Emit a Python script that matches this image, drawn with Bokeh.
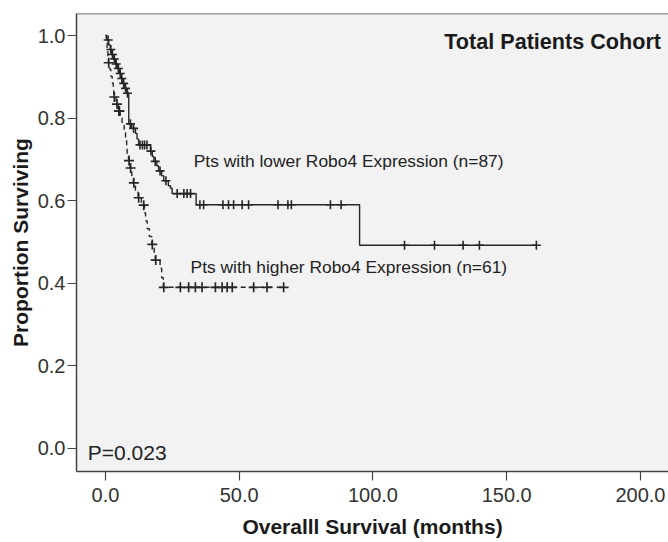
import numpy as np
from bokeh.plotting import figure
from bokeh.models import Range1d, Label, FixedTicker, NumeralTickFormatter, Span
from bokeh.embed import file_html
from bokeh.resources import INLINE

# ---- data ----
x_ticks = [0, 50, 100, 150, 200]
y_ticks = [0.0, 0.2, 0.4, 0.6, 0.8, 1.0]

# lower Robo4 expression (n=87): event times (months) and survival after each event
lower_event_times = [0.5, 1.2, 1.8, 2.3, 3.0, 3.8, 4.5, 5.2, 5.8, 6.5, 7.2, 8.0, 8.7,
                     9.8, 11.2, 11.8, 12.4, 16.8, 17.5, 18.1, 19.2, 19.9, 21.0, 21.8,
                     23.5, 24.3, 24.9, 33.9, 95.0]
lower_event_surv = [0.989, 0.977, 0.966, 0.954, 0.943, 0.931, 0.920, 0.908, 0.896, 0.884,
                    0.872, 0.860, 0.786, 0.775, 0.763, 0.749, 0.735, 0.720, 0.707, 0.695,
                    0.684, 0.672, 0.660, 0.648, 0.636, 0.630, 0.617, 0.590, 0.492]
lower_censor_times = [1.0, 2.0, 2.6, 3.3, 4.0, 4.8, 5.5, 6.1, 6.8, 7.5, 8.2, 9.3, 10.5,
                      12.9, 13.8, 14.6, 15.5, 17.0, 18.6, 20.4, 22.6, 26.8, 29.3, 30.5,
                      31.8, 35.3, 36.7, 43.9, 46.0, 47.9, 51.1, 53.5, 64.5, 68.2, 69.5,
                      84.1, 88.1, 111.8, 123.0, 133.7, 139.8, 161.1]

# higher Robo4 expression (n=61)
higher_event_times = [0.3, 0.6, 0.9, 1.1, 1.6, 2.0, 2.5, 2.9, 3.1, 4.0, 4.8, 5.5, 6.2,
                      7.0, 7.5, 7.9, 8.1, 8.6, 9.2, 9.8, 10.4, 11.2, 12.2, 13.4, 14.6,
                      15.0, 15.6, 16.4, 17.3, 18.2, 18.6, 20.4, 21.0, 21.6]
higher_event_surv = [0.984, 0.967, 0.951, 0.934, 0.918, 0.901, 0.885, 0.868, 0.851, 0.834,
                     0.817, 0.800, 0.782, 0.765, 0.748, 0.731, 0.714, 0.697, 0.679, 0.661,
                     0.643, 0.625, 0.607, 0.589, 0.570, 0.551, 0.532, 0.513, 0.494, 0.475,
                     0.456, 0.436, 0.413, 0.390]
higher_censor_times = [1.2, 3.3, 4.3, 5.0, 5.2, 8.8, 9.4, 10.6, 12.4, 14.3, 17.5, 18.8,
                       21.8, 28.0, 31.1, 33.6, 36.1, 41.1, 43.6, 45.5, 47.4, 55.4, 60.4, 66.6]

label_lower = "Pts with lower Robo4 Expression (n=87)"
label_higher = "Pts with higher Robo4 Expression (n=61)"
title_text = "Total Patients Cohort"
p_text = "P=0.023"


def step_path(times, surv, end):
    xs, ys = [0.0], [1.0]
    prev = 1.0
    for t, s in zip(times, surv):
        xs += [t, t]
        ys += [prev, s]
        prev = s
    xs.append(end)
    ys.append(prev)
    return xs, ys


def surv_at(times, surv, tc):
    t = np.asarray(times)
    s = np.concatenate([[1.0], np.asarray(surv)])
    idx = np.searchsorted(t, np.asarray(tc), side="right")
    return s[idx]


FONT = "Liberation Sans"
INK = "#262626"

p = figure(width=668, height=542, output_backend="svg", toolbar_location=None,
           x_range=Range1d(-10.84, 210.5), y_range=Range1d(-0.0562, 1.0533),
           min_border_left=76, min_border_right=0, min_border_top=13, min_border_bottom=71)
p.background_fill_color = "#f2f2f2"
p.border_fill_color = "white"
p.outline_line_color = None
p.grid.visible = False

p.add_layout(Span(location=1.0533, dimension="width", line_color="#444444", line_width=1.5))

lx, ly = step_path(lower_event_times, lower_event_surv, lower_censor_times[-1])
hx, hy = step_path(higher_event_times, higher_event_surv, higher_censor_times[-1])
p.line(lx, ly, line_color=INK, line_width=1.4)
p.line(hx, hy, line_color=INK, line_width=1.4, line_dash="5 4")

p.scatter(lower_censor_times, surv_at(lower_event_times, lower_event_surv, lower_censor_times),
          marker="cross", size=9, line_color=INK, line_width=1.6)
p.scatter(higher_censor_times, surv_at(higher_event_times, higher_event_surv, higher_censor_times),
          marker="cross", size=10, line_color=INK, line_width=1.7)

for ax in (p.xaxis[0], p.yaxis[0]):
    ax.axis_line_color = "#444444"
    ax.axis_line_width = 1.5
    ax.major_tick_line_color = "#444444"
    ax.major_tick_line_width = 1.2
    ax.major_tick_out = 9
    ax.major_tick_in = 0
    ax.minor_tick_line_color = None
    ax.major_label_text_font = FONT
    ax.major_label_text_font_size = "20px"
    ax.major_label_text_color = "#333333"
    ax.axis_label_text_font = FONT
    ax.axis_label_text_font_size = "21px"
    ax.axis_label_text_font_style = "bold"
    ax.axis_label_text_color = "#1a1a1a"
    ax.formatter = NumeralTickFormatter(format="0.0")

p.xaxis.ticker = FixedTicker(ticks=x_ticks)
p.yaxis.ticker = FixedTicker(ticks=y_ticks)
p.xaxis.axis_label = "Overalll Survival (months)"
p.yaxis.axis_label = "Proportion Surviving"
p.xaxis.major_label_standoff = 7
p.yaxis.major_label_standoff = 2
p.xaxis.axis_label_standoff = 10
p.yaxis.axis_label_standoff = 3

p.add_layout(Label(x=207.7, y=0.986, text=title_text, text_align="right", text_baseline="middle",
                   text_font=FONT, text_font_size="21.6px", text_font_style="bold", text_color="#1a1a1a"))
p.add_layout(Label(x=33.0, y=0.695, text=label_lower, text_align="left", text_baseline="middle",
                   text_font=FONT, text_font_size="17.4px", text_color="#222222"))
p.add_layout(Label(x=31.8, y=0.44, text=label_higher, text_align="left", text_baseline="middle",
                   text_font=FONT, text_font_size="17.4px", text_color="#222222"))
p.add_layout(Label(x=-6.6, y=-0.01, text=p_text, text_align="left", text_baseline="middle",
                   text_font=FONT, text_font_size="21px", text_color="#222222"))

open("out.html", "w").write(file_html(p, INLINE))
